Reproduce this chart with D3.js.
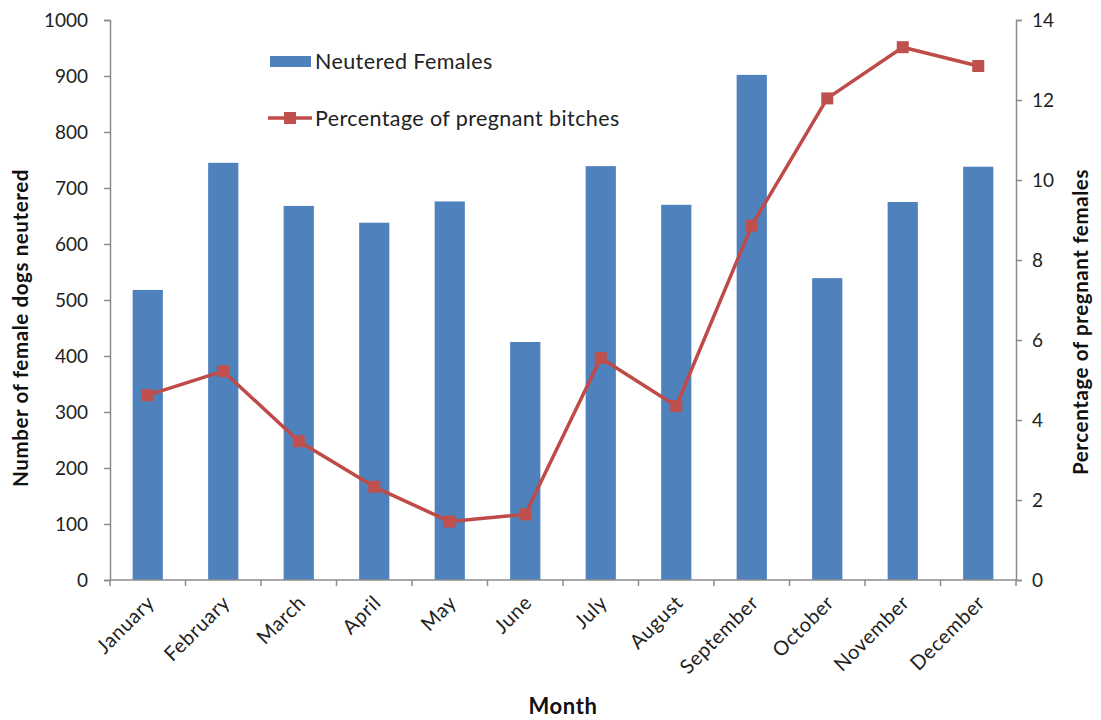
<!DOCTYPE html>
<html>
<head>
<meta charset="utf-8">
<script src="https://cdn.jsdelivr.net/npm/d3@7"></script>
<style>
  html, body { margin: 0; padding: 0; background: #fff; }
  svg { display: block; font-family: Lato, "Open Sans", sans-serif; }
</style>
</head>
<body>
<svg id="chart" width="1101" height="720"></svg>
<script>
// Monthly neutering counts and share of pregnant bitches
const months = ["January", "February", "March", "April", "May", "June",
                "July", "August", "September", "October", "November", "December"];
const neutered = [518, 745, 668, 638, 676, 425, 739, 670, 902, 539, 675, 738];
const pregnantPct = [4.62, 5.22, 3.47, 2.33, 1.46, 1.64, 5.55, 4.35, 8.86, 12.04, 13.32, 12.85];
const leftTicks = [0, 100, 200, 300, 400, 500, 600, 700, 800, 900, 1000];
const rightTicks = [0, 2, 4, 6, 8, 10, 12, 14];

const svg = d3.select("#chart");
const plotL = 110, plotR = 1016, plotT = 20, plotB = 580;
const axisColor = "#8c8c8c";
const barColor = "#4f81bd";
const lineColor = "#be4b48";
const markerColor = "#c0504d";

const x = d3.scaleBand().domain(months).range([plotL, plotR])
  .paddingInner(0.6).paddingOuter(0.3);
const yL = d3.scaleLinear().domain([0, 1000]).range([plotB, plotT]);
const yR = d3.scaleLinear().domain([0, 14]).range([plotB, plotT]);
const cx = m => x(m) + x.bandwidth() / 2;

// bars
svg.append("g").selectAll("rect").data(months).join("rect")
  .attr("x", m => x(m))
  .attr("width", x.bandwidth())
  .attr("y", (m, i) => yL(neutered[i]))
  .attr("height", (m, i) => yL(0) - yL(neutered[i]))
  .attr("fill", barColor);

// line + markers
const line = d3.line().x((d, i) => cx(months[i])).y(d => yR(d));
svg.append("path").datum(pregnantPct)
  .attr("d", line).attr("fill", "none")
  .attr("stroke", lineColor).attr("stroke-width", 3.5)
  .attr("stroke-linejoin", "round");
svg.append("g").selectAll("rect").data(pregnantPct).join("rect")
  .attr("x", (d, i) => cx(months[i]) - 6)
  .attr("y", d => yR(d) - 6)
  .attr("width", 12).attr("height", 12)
  .attr("fill", markerColor);

// left axis
const gL = svg.append("g").attr("transform", `translate(${plotL},0)`)
  .call(d3.axisLeft(yL).tickValues(leftTicks).tickFormat(d3.format("d"))
    .tickSize(6).tickPadding(16));
// right axis
const gR = svg.append("g").attr("transform", `translate(${plotR},0)`)
  .call(d3.axisRight(yR).tickValues(rightTicks).tickFormat(d3.format("d"))
    .tickSize(6).tickPadding(10));
// bottom axis: ticks at category boundaries
const boundaries = d3.range(months.length + 1).map(i => plotL + i * x.step());
const gB = svg.append("g").attr("transform", `translate(0,${plotB})`);
gB.append("line").attr("x1", plotL).attr("x2", plotR)
  .attr("stroke", axisColor).attr("stroke-width", 1.5);
gB.selectAll("line.tk").data(boundaries).join("line").attr("class", "tk")
  .attr("x1", d => d).attr("x2", d => d).attr("y1", 0).attr("y2", 6)
  .attr("stroke", axisColor).attr("stroke-width", 1.5);
gB.selectAll("text").data(months).join("text")
  .attr("transform", m => `translate(${cx(m) + 3},${19}) rotate(-45)`)
  .attr("text-anchor", "end")
  .attr("dy", "0.35em")
  .attr("font-size", 20).attr("letter-spacing", 0.6).attr("fill", "#222")
  .text(m => m);

[gL, gR].forEach(g => {
  g.select(".domain").attr("stroke", axisColor).attr("stroke-width", 1.5);
  g.selectAll(".tick line").attr("stroke", axisColor).attr("stroke-width", 1.5);
  g.selectAll(".tick text").attr("font-size", 19).attr("fill", "#222")
    .attr("font-family", "Lato, 'Open Sans', sans-serif");
});

// axis titles
svg.append("text")
  .attr("transform", `translate(28,${(plotT + plotB) / 2 + 28}) rotate(-90)`)
  .attr("text-anchor", "middle").attr("font-weight", "bold").attr("font-size", 20.5)
  .attr("letter-spacing", 0.6)
  .attr("fill", "#111").text("Number of female dogs neutered");
svg.append("text")
  .attr("transform", `translate(1088,${(plotT + plotB) / 2 + 22}) rotate(-90)`)
  .attr("text-anchor", "middle").attr("font-weight", "bold").attr("font-size", 20.5)
  .attr("letter-spacing", 0.6)
  .attr("fill", "#111").text("Percentage of pregnant females");
svg.append("text")
  .attr("x", 563).attr("y", 714)
  .attr("text-anchor", "middle").attr("font-weight", "bold").attr("font-size", 22)
  .attr("letter-spacing", 0.6)
  .attr("fill", "#111").text("Month");

// legend
const lg = svg.append("g");
lg.append("rect").attr("x", 270).attr("y", 56).attr("width", 41).attr("height", 11)
  .attr("fill", barColor);
lg.append("text").attr("x", 315).attr("y", 68.5).attr("font-size", 21.5)
  .attr("letter-spacing", 0.4)
  .attr("fill", "#222").text("Neutered Females");
lg.append("line").attr("x1", 268).attr("x2", 312).attr("y1", 118).attr("y2", 118)
  .attr("stroke", lineColor).attr("stroke-width", 3.5);
lg.append("rect").attr("x", 284).attr("y", 112).attr("width", 12).attr("height", 12)
  .attr("fill", markerColor);
lg.append("text").attr("x", 315).attr("y", 126).attr("font-size", 21.5)
  .attr("letter-spacing", 0.4)
  .attr("fill", "#222").text("Percentage of pregnant bitches");
</script>
</body>
</html>
